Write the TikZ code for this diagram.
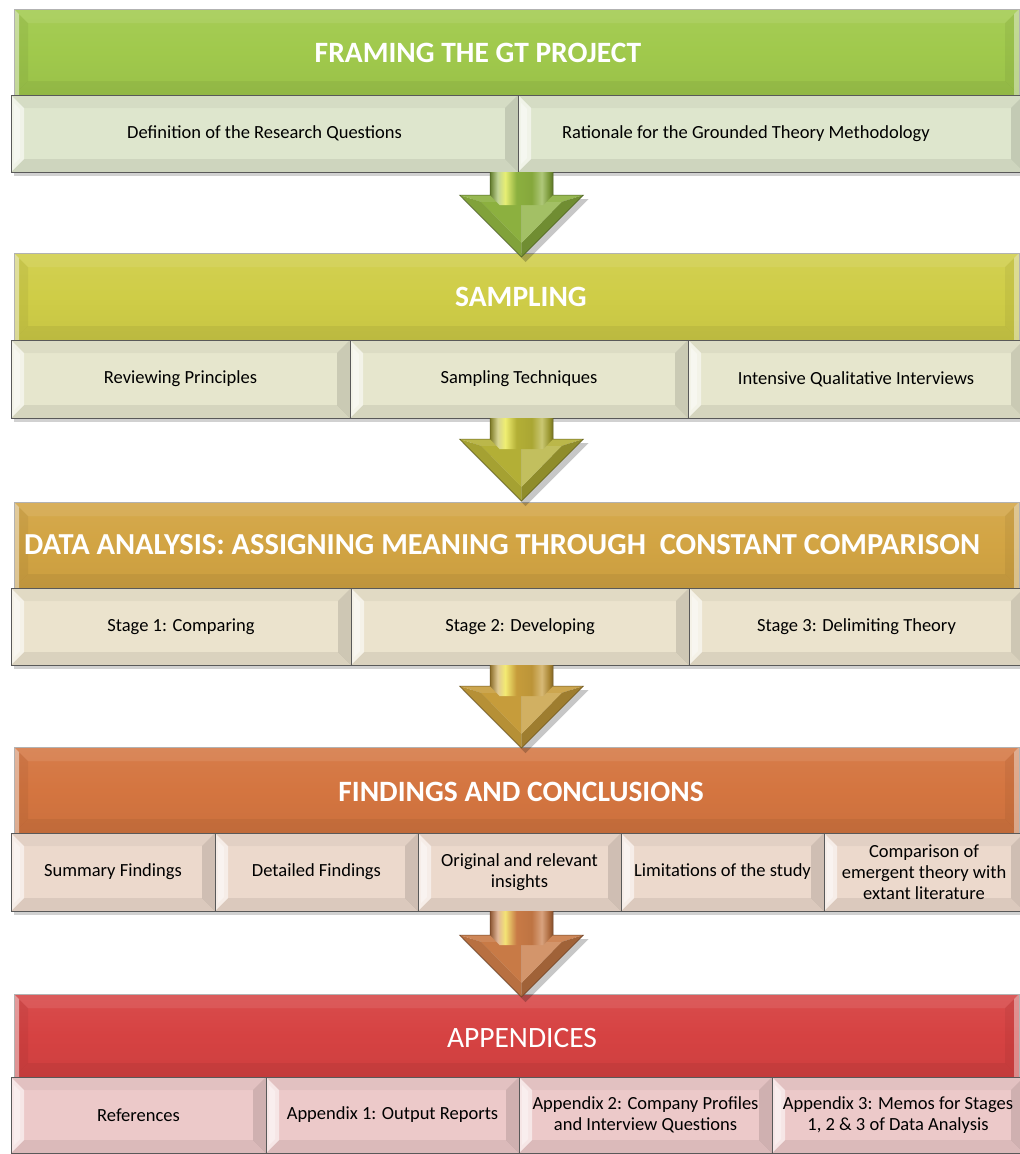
\documentclass[tikz,border=0pt]{standalone}
\usepackage{fontspec}
\setmainfont{Carlito}
\usetikzlibrary{calc}

% band colours
\definecolor{gHead}{HTML}{A0C94C}\definecolor{gSub}{HTML}{DEE6CD}\definecolor{gArrow}{HTML}{8CB03F}
\definecolor{yHead}{HTML}{CFCD47}\definecolor{ySub}{HTML}{E6E6CD}\definecolor{yArrow}{HTML}{B3AF36}
\definecolor{oHead}{HTML}{D2A443}\definecolor{oSub}{HTML}{EBE3CD}\definecolor{oArrow}{HTML}{C69C3B}
\definecolor{cHead}{HTML}{D47540}\definecolor{cSub}{HTML}{ECD9CC}\definecolor{cArrow}{HTML}{C87A46}
\definecolor{rHead}{HTML}{D64242}\definecolor{rSub}{HTML}{ECC9C9}
\colorlet{arrowbase}{gArrow}

% shaft of the block arrows: dark edges, bright band left of centre
\pgfdeclarehorizontalshading[arrowbase]{shaftshade}{100bp}{%
  color(0bp)=(arrowbase!70!black); color(25bp)=(arrowbase!70!black);
  color(31bp)=(arrowbase!55!white); color(37bp)=(arrowbase!35!yellow!60!white);
  color(46bp)=(arrowbase); color(58bp)=(arrowbase!95!black);
  color(66bp)=(arrowbase!70!white); color(72bp)=(arrowbase!85!black);
  color(75bp)=(arrowbase!65!black); color(100bp)=(arrowbase!65!black)}

\tikzset{
  headbevel/.style={path picture={
    \coordinate (bnw) at (path picture bounding box.north west);
    \coordinate (bse) at (path picture bounding box.south east);
    \coordinate (bne) at (bnw -| bse);
    \coordinate (bsw) at (bnw |- bse);
    \fill[white,opacity=.08] (bnw) -- (bne) -- ($(bne)+(-#1,#1)$) -- ($(bnw)+(#1,#1)$) -- cycle;
    \fill[black,opacity=.05] (bsw) -- (bse) -- ($(bse)+(-#1,-#1)$) -- ($(bsw)+(#1,-#1)$) -- cycle;
    \fill[black,opacity=.05] (bnw) -- ($(bnw)+(#1,#1)$) -- ($(bsw)+(#1,-#1)$) -- (bsw) -- cycle;
    \fill[black,opacity=.05] (bne) -- ($(bne)+(-#1,#1)$) -- ($(bse)+(-#1,-#1)$) -- (bse) -- cycle;
    \fill[white,opacity=.45] (bnw) -- ($(bnw)+(5,5)$) -- ($(bsw)+(5,0)$) -- (bsw) -- cycle;
    \fill[white,opacity=.40] (bne) -- ($(bne)+(-5,5)$) -- ($(bse)+(-5,0)$) -- (bse) -- cycle;
  }},
  subbevel/.style={path picture={
    \coordinate (bnw) at (path picture bounding box.north west);
    \coordinate (bse) at (path picture bounding box.south east);
    \coordinate (bne) at (bnw -| bse);
    \coordinate (bsw) at (bnw |- bse);
    \fill[black,opacity=.04] (bnw) -- (bne) -- ($(bne)+(-#1,#1)$) -- ($(bnw)+(#1,#1)$) -- cycle;
    \fill[black,opacity=.07] (bsw) -- (bse) -- ($(bse)+(-#1,-#1)$) -- ($(bsw)+(#1,-#1)$) -- cycle;
    \fill[white,opacity=.55] (bnw) -- ($(bnw)+(#1,#1)$) -- ($(bsw)+(#1,-#1)$) -- (bsw) -- cycle;
    \fill[black,opacity=.12] (bne) -- ($(bne)+(-#1,#1)$) -- ($(bse)+(-#1,-#1)$) -- (bse) -- cycle;
    \fill[white,opacity=.35] ($(bnw)+(3,8)$) -- ($(bnw)+(9,14)$) -- ($(bsw)+(9,-14)$) -- ($(bsw)+(3,-8)$) -- cycle;
  }},
  head/.style={top color=#1!94!white, bottom color=#1!96!black, middle color=#1,
    draw=black!30, line width=.4pt, inner sep=0pt, outer sep=0pt, headbevel=14},
  sub/.style={fill=#1, draw=black!65, line width=.6pt, inner sep=0pt, outer sep=0pt,
    subbevel=13, align=center, font=\fontsize{18.5}{21}\selectfont},
  headtext/.style={text=white, font=\bfseries\fontsize{29.5}{33}\selectfont, inner sep=0pt},
  rowshadow/.style={fill=black, opacity=.18},
}

% one rectangular cell: name, x1, y1, x2, y2, style, text
\newcommand\cell[7]{%
  \node[#6, minimum width={#4-#2}, minimum height={#5-#3}] (#1)
    at ({(#2+#4)/2},{(#3+#5)/2}) {#7};}

% block arrow from the top point #1 down to the tip #2, coloured #3
\newcommand\flowarrow[3]{%
  \colorlet{arrowbase}{#3}%
  \fill[black,opacity=.22] ($(#1)+(-28.5,0)$) -- ($(#2)+(34.5,-59)$) -| cycle;
  \fill[black,opacity=.22] ($(#2)+(-59,-58)$) -- ($(#2)+(67,-58)$) -- ($(#2)+(4,5)$) -- cycle;
  \shade[shading=shaftshade] ($(#1)+(-31.5,0)$) rectangle ($(#2)+(31.5,-61)$);
  \fill[arrowbase!90!white] ($(#2)+(-62,-62)$) -- ($(#2)+(62,-62)$) -- ($(#2)+(40,-55)$) -- ($(#2)+(-40,-55)$) -- cycle;
  \fill[arrowbase!92!black] ($(#2)+(-62,-62)$) -- (#2) -- ($(#2)+(0,-14)$) -- ($(#2)+(-40,-55)$) -- cycle;
  \fill[arrowbase!80!black] ($(#2)+(62,-62)$) -- (#2) -- ($(#2)+(0,-14)$) -- ($(#2)+(40,-55)$) -- cycle;
  \fill[arrowbase] ($(#2)+(-40,-55)$) -- ($(#2)+(0,-55)$) -- ($(#2)+(0,-14)$) -- cycle;
  \fill[arrowbase!80!white] ($(#2)+(40,-55)$) -- ($(#2)+(0,-55)$) -- ($(#2)+(0,-14)$) -- cycle;
  \shade[shading=shaftshade] ($(#2)+(-31.5,-62)$) -- ($(#2)+(31.5,-62)$) -- ($(#2)+(22,-52)$) -- ($(#2)+(-22,-52)$) -- cycle;
  \draw[arrowbase!55!black, line width=.5pt, line join=miter]
    ($(#1)+(-31.5,0)$) -- ($(#2)+(-31.5,-62)$) -- ($(#2)+(-62,-62)$) -- (#2)
    -- ($(#2)+(62,-62)$) -- ($(#2)+(31.5,-62)$) -- ($(#1)+(31.5,0)$);
}

\begin{document}
\begin{tikzpicture}[x=1pt, y=-1pt]
\useasboundingbox (0,0) rectangle (1020,1154);
\fill[white] (0,0) rectangle (1020,1154);
\clip (0,0) rectangle (1020,1154);

% ---------- framing ----------
\fill[rowshadow] (14,98) rectangle (1030,176);
\cell{h1}{14}{9}{1019}{95}{head=gHead}{}
\node[headtext] (h1t) at (478,53) {FRAMING THE GT PROJECT};
\cell{s11}{11}{95}{518}{172}{sub=gSub}{Definition of the Research Questions}
\cell{s12}{518}{95}{1024}{172}{sub=gSub}{Rationale for the Grounded Theory Methodology\hspace*{50pt}}

% ---------- sampling ----------
\fill[rowshadow] (14,343) rectangle (1030,422);
\cell{h2}{14}{253}{1019}{340}{head=yHead}{}
\node[headtext] (h2t) at (521,297) {SAMPLING};
\cell{s21}{11}{340}{350}{418}{sub=ySub}{Reviewing Principles}
\cell{s22}{350}{340}{688}{418}{sub=ySub}{Sampling Techniques}
\cell{s23}{688}{340}{1024}{418}{sub=ySub}{Intensive Qualitative Interviews}

% ---------- data analysis ----------
\fill[rowshadow] (14,591) rectangle (1030,669);
\cell{h3}{14}{502}{1019}{588}{head=oHead}{}
\node[headtext, font=\bfseries\fontsize{30.5}{34}\selectfont] (h3t) at (502,545)
  {DATA ANALYSIS: ASSIGNING MEANING THROUGH\ \ CONSTANT COMPARISON};
\cell{s31}{11}{588}{351}{665}{sub=oSub}{Stage 1: Comparing}
\cell{s32}{351}{588}{689}{665}{sub=oSub}{Stage 2: Developing}
\cell{s33}{689}{588}{1024}{665}{sub=oSub}{Stage 3: Delimiting Theory}

% ---------- findings ----------
\fill[rowshadow] (14,836) rectangle (1030,915);
\cell{h4}{14}{747}{1019}{833}{head=cHead}{}
\node[headtext] (h4t) at (521,792) {FINDINGS AND CONCLUSIONS};
\cell{s41}{11}{833}{215}{911}{sub=cSub}{Summary Findings}
\cell{s42}{215}{833}{418}{911}{sub=cSub}{Detailed Findings}
\cell{s43}{418}{833}{621}{911}{sub=cSub}{Original and relevant\\insights}
\cell{s44}{621}{833}{824}{911}{sub=cSub}{Limitations of the study}
\cell{s45}{824}{833}{1024}{911}{sub=cSub}{Comparison of\\emergent theory with\\extant literature}

% ---------- appendices ----------
\fill[rowshadow] (14,1080) rectangle (1030,1160);
\cell{h5}{14}{994}{1019}{1077}{head=rHead}{}
\node[headtext, font=\fontsize{29.5}{33}\selectfont] (h5t) at (522,1038) {APPENDICES};
\cell{s51}{11}{1077}{266}{1153}{sub=rSub}{References}
\cell{s52}{266}{1077}{519}{1153}{sub=rSub}{Appendix 1: Output Reports}
\cell{s53}{519}{1077}{772}{1153}{sub=rSub}{Appendix 2: Company Profiles\\and Interview Questions}
\cell{s54}{772}{1077}{1024}{1153}{sub=rSub}{Appendix 3: Memos for Stages\\1, 2 \& 3 of Data Analysis}

% ---------- arrows between the bands ----------
\coordinate (a1t) at (521.5,172); \coordinate (a1b) at (521.5,257);
\coordinate (a2t) at (521.5,418); \coordinate (a2b) at (521.5,501);
\coordinate (a3t) at (521.5,665); \coordinate (a3b) at (521.5,748);
\coordinate (a4t) at (521.5,911); \coordinate (a4b) at (521.5,997);
\flowarrow{a1t}{a1b}{gArrow}
\flowarrow{a2t}{a2b}{yArrow}
\flowarrow{a3t}{a3b}{oArrow}
\flowarrow{a4t}{a4b}{cArrow}
\end{tikzpicture}
\end{document}
